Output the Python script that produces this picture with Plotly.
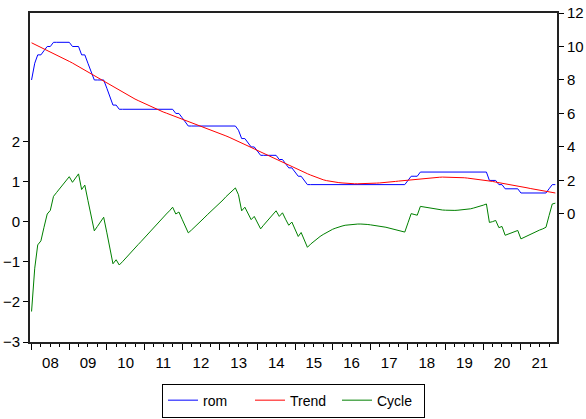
import pandas as pd
import plotly.graph_objects as go

dates = pd.date_range("2008-01-01", periods=168, freq="MS")

rom = [8.0, 9.0, 9.5, 9.5, 9.75, 10.0, 10.0,
       10.25, 10.25, 10.25, 10.25, 10.25, 10.25,
       10.0, 10.0, 10.0, 9.5, 9.5, 9.0, 8.5,
       8.0, 8.0, 8.0, 8.0, 7.5, 7.0, 6.5, 6.5,
       6.25, 6.25, 6.25, 6.25, 6.25, 6.25, 6.25, 6.25, 6.25,
       6.25, 6.25, 6.25, 6.25, 6.25, 6.25, 6.25, 6.25, 6.25,
       6.0, 6.0, 5.75, 5.5,
       5.25, 5.25, 5.25, 5.25, 5.25, 5.25, 5.25, 5.25,
       5.25, 5.25, 5.25, 5.25, 5.25, 5.25, 5.25, 5.25,
       5.0, 4.5, 4.5, 4.25, 4.0, 4.0, 3.75,
       3.5, 3.5, 3.5, 3.5, 3.5, 3.5,
       3.25, 3.25, 3.0, 2.75, 2.75, 2.5, 2.25, 2.25, 2.0,
       1.75, 1.75, 1.75, 1.75, 1.75, 1.75, 1.75, 1.75,
       1.75, 1.75, 1.75, 1.75, 1.75, 1.75, 1.75, 1.75,
       1.75, 1.75, 1.75, 1.75, 1.75, 1.75, 1.75, 1.75,
       1.75, 1.75, 1.75, 1.75, 1.75, 1.75, 1.75, 1.75,
       2.0, 2.25, 2.25, 2.25,
       2.5, 2.5, 2.5, 2.5, 2.5, 2.5, 2.5, 2.5, 2.5, 2.5, 2.5,
       2.5, 2.5, 2.5, 2.5, 2.5, 2.5, 2.5, 2.5, 2.5, 2.5, 2.5,
       2.0, 2.0, 2.0, 1.75, 1.75,
       1.5, 1.5, 1.5, 1.5, 1.5,
       1.25, 1.25, 1.25, 1.25, 1.25, 1.25, 1.25, 1.25, 1.25,
       1.5, 1.75, 1.75]

trend = [10.22, 10.13, 10.04, 9.95, 9.86, 9.77, 9.68, 9.59, 9.49, 9.40,
         9.30, 9.21, 9.11, 9.01, 8.91, 8.80, 8.70, 8.59, 8.48, 8.37,
         8.26, 8.15, 8.04, 7.93, 7.82, 7.71, 7.60, 7.49, 7.37,
         7.26, 7.16, 7.06, 6.96, 6.86, 6.77, 6.68, 6.59, 6.50, 6.41,
         6.33, 6.25, 6.17, 6.09, 6.02, 5.95, 5.88, 5.81, 5.74, 5.67,
         5.60, 5.53, 5.46, 5.39, 5.32, 5.25, 5.18, 5.11, 5.04, 4.97,
         4.90, 4.82, 4.74, 4.66, 4.58, 4.50, 4.42, 4.33, 4.24, 4.15,
         4.06, 3.97, 3.88, 3.79, 3.70, 3.61, 3.52, 3.43, 3.34, 3.25,
         3.16, 3.07, 2.98, 2.89, 2.80, 2.72, 2.64, 2.56, 2.48, 2.40,
         2.32, 2.24, 2.17, 2.10, 2.04, 1.99, 1.95, 1.92, 1.89, 1.87,
         1.85, 1.83, 1.82, 1.81, 1.80, 1.80, 1.80, 1.80, 1.81, 1.82,
         1.83, 1.84, 1.85, 1.86, 1.88, 1.90, 1.92, 1.94, 1.96, 1.98,
         2.00, 2.02,
         2.05, 2.07, 2.09, 2.11, 2.13, 2.15, 2.16, 2.17, 2.18, 2.19,
         2.20, 2.20, 2.20, 2.20, 2.19, 2.18, 2.17, 2.16, 2.14, 2.12,
         2.10, 2.08, 2.05, 2.03, 2.00, 1.97,
         1.94, 1.90, 1.87, 1.83, 1.80, 1.76, 1.73, 1.69, 1.66, 1.62,
         1.59, 1.56, 1.52, 1.49, 1.46, 1.42, 1.39, 1.35, 1.32, 1.29, 1.25]

cycle = [-2.24, -1.16, -0.58, -0.48, -0.14, 0.19, 0.28, 0.63, 0.73, 0.83,
         0.93, 1.02, 1.12, 0.98, 1.08, 1.19, 0.80, 0.91, 0.53, 0.15,
         -0.23, -0.12, 0.00, 0.11, -0.28, -0.66, -1.05, -0.95, -1.08,
         -1.00, -0.91, -0.83, -0.74, -0.66, -0.57, -0.49, -0.40, -0.32, -0.23,
         -0.15, -0.07, 0.02, 0.10, 0.19, 0.27, 0.36,
         0.19, 0.24, 0.06, -0.11, -0.28, -0.21, -0.13, -0.06, 0.02, 0.09,
         0.17, 0.24, 0.32, 0.39, 0.47, 0.54, 0.62, 0.69, 0.77, 0.84,
         0.67, 0.27, 0.36, 0.20, 0.05, 0.13, -0.02, -0.18, -0.09, 0.00,
         0.09, 0.18, 0.27, 0.13, 0.22, 0.06, -0.09, -0.01, -0.19, -0.37,
         -0.27, -0.45, -0.64,
         -0.56, -0.49, -0.43, -0.37, -0.32, -0.27, -0.22, -0.19, -0.16, -0.13,
         -0.11, -0.09, -0.08, -0.07, -0.06, -0.06, -0.06, -0.06, -0.07, -0.08,
         -0.09, -0.10, -0.11, -0.12, -0.14, -0.16, -0.18, -0.20, -0.22, -0.24,
         -0.26,
         -0.03, 0.20, 0.18, 0.16, 0.38, 0.365, 0.35, 0.335, 0.32, 0.31,
         0.30, 0.29, 0.285, 0.28, 0.28, 0.28, 0.285, 0.29, 0.30, 0.31,
         0.32, 0.34, 0.36, 0.38, 0.41, 0.44,
         -0.02, 0.00, 0.03, -0.15, -0.12, -0.34, -0.31, -0.28, -0.25, -0.22,
         -0.43, -0.39, -0.36, -0.32, -0.29, -0.25, -0.21, -0.18, -0.14,
         0.15, 0.44, 0.46]

left_ticks = [-3, -2, -1, 0, 1, 2]
right_ticks = [0, 2, 4, 6, 8, 10, 12]

FONT = "Liberation Sans, Arial, sans-serif"

fig = go.Figure()
fig.add_trace(go.Scatter(x=dates, y=rom, name="rom", yaxis="y2",
                         mode="lines", line=dict(color="#0000FF", width=1)))
fig.add_trace(go.Scatter(x=dates, y=trend, name="Trend", yaxis="y2",
                         mode="lines", line=dict(color="#FF0000", width=1)))
fig.add_trace(go.Scatter(x=dates, y=cycle, name="Cycle", yaxis="y",
                         mode="lines", line=dict(color="#008000", width=1)))

fig.update_layout(
    width=586, height=419,
    margin=dict(l=30, r=29, t=13, b=77, autoexpand=False),
    paper_bgcolor="white", plot_bgcolor="white",
    font=dict(family=FONT, size=15, color="black"),
    xaxis=dict(
        range=["2007-12-17", "2021-12-17"],
        tick0="2008-01-01", dtick="M12", tickformat="%y",
        ticklabelmode="period",
        ticks="outside", ticklen=6, tickwidth=1, tickcolor="black",
        minor=dict(dtick="M3", tick0="2008-01-01", ticks="outside",
                   ticklen=3, tickcolor="black", showgrid=False),
        showgrid=False, zeroline=False, automargin=False,
        showline=True, linecolor="#222", linewidth=2, mirror=True,
        tickfont=dict(size=15),
    ),
    yaxis=dict(
        range=[-3, 5.2], tickvals=left_ticks,
        ticks="outside", ticklen=5, tickcolor="black",
        showgrid=False, zeroline=False, automargin=False,
        showline=True, linecolor="#222", linewidth=2, mirror=True,
        tickfont=dict(size=15),
    ),
    yaxis2=dict(
        range=[-7.65, 12], tickvals=right_ticks,
        overlaying="y", side="right",
        ticks="outside", ticklen=5, tickcolor="black",
        showgrid=False, zeroline=False, automargin=False,
        showline=True, linecolor="#222", linewidth=2,
        tickfont=dict(size=15),
    ),
    legend=dict(
        orientation="h", x=0.5, xanchor="center", y=-0.178, yanchor="middle",
        bordercolor="black", borderwidth=1, bgcolor="white",
        entrywidth=42, entrywidthmode="pixels",
        font=dict(family=FONT, size=14, color="black"),
    ),
    showlegend=True,
)

fig.write_html("out.html")
